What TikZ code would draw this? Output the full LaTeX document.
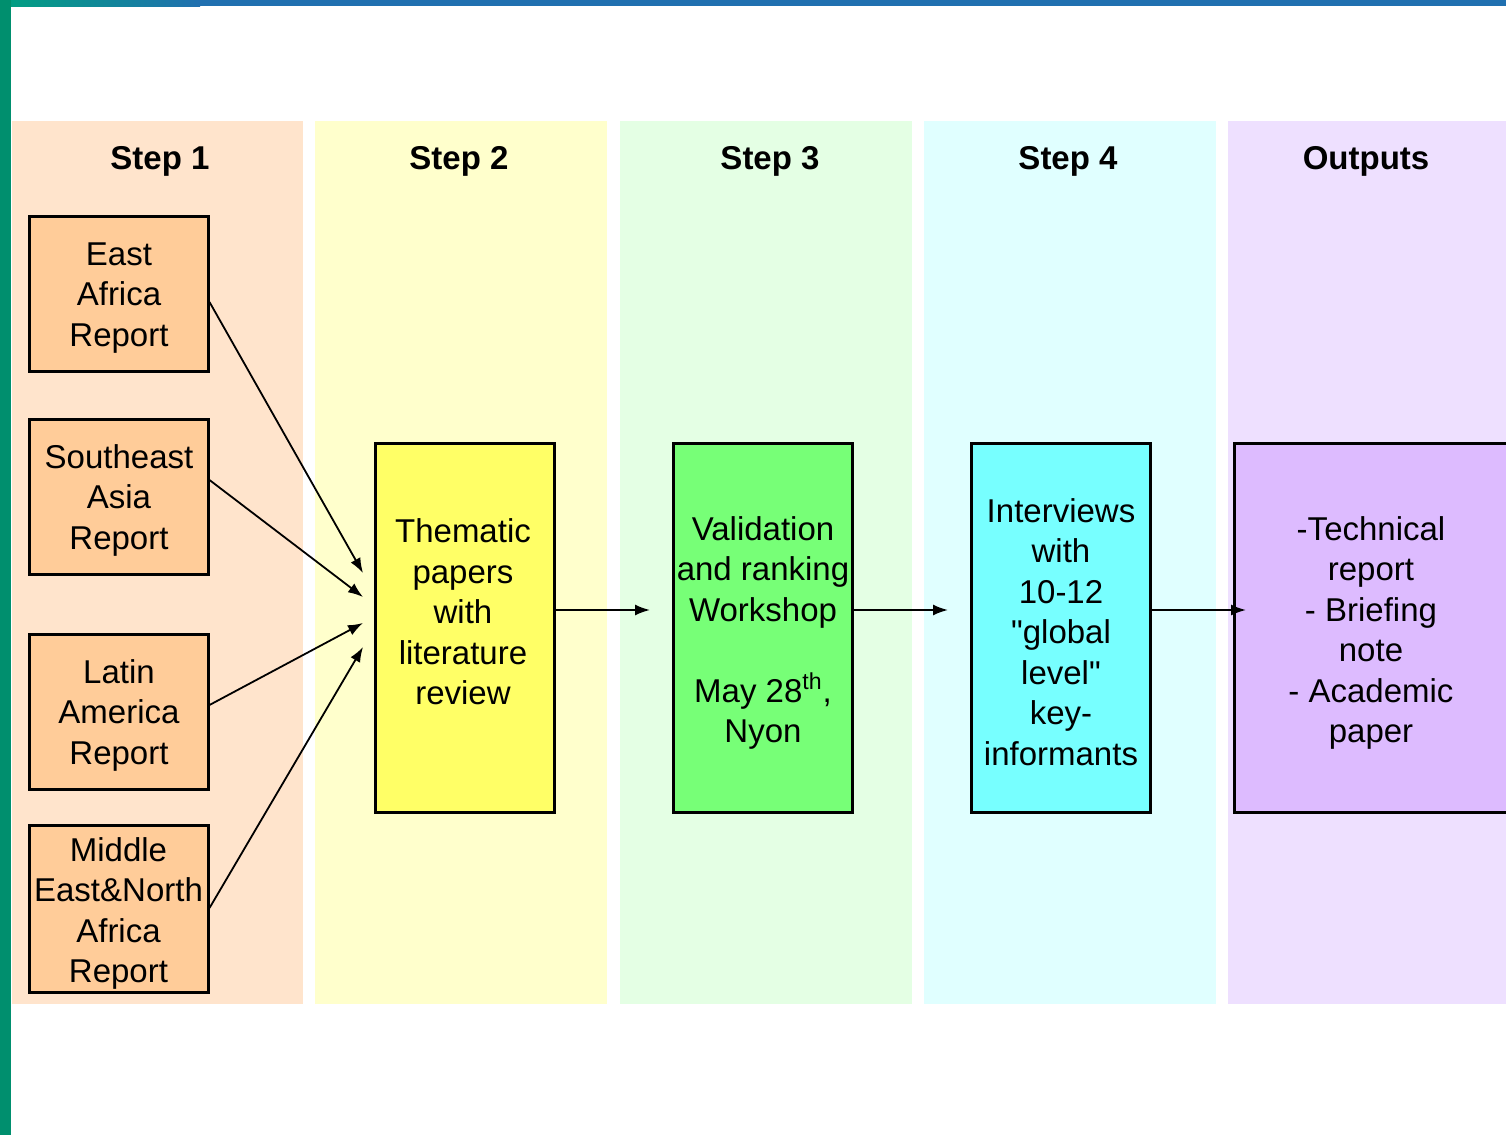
\documentclass[tikz,border=0pt]{standalone}
\usepackage{fontspec}
\setmainfont{Liberation Sans}[Ligatures=TeXOff]
\usetikzlibrary{arrows.meta}
\definecolor{colA}{HTML}{FFE4CC}
\definecolor{colB}{HTML}{FFFFCC}
\definecolor{colC}{HTML}{E4FFE4}
\definecolor{colD}{HTML}{E0FFFF}
\definecolor{colE}{HTML}{EEE0FF}
\definecolor{boxA}{HTML}{FFCC99}
\definecolor{boxB}{HTML}{FFFF66}
\definecolor{boxC}{HTML}{77FF77}
\definecolor{boxD}{HTML}{77FFFF}
\definecolor{boxE}{HTML}{DDBBFF}
\definecolor{bargreen}{HTML}{00A080}
\definecolor{barblue}{HTML}{2070B0}
\definecolor{sidegreen}{HTML}{008F6E}
\tikzset{
  column/.style={fill=#1, draw=none},
  header/.style={font=\fontsize{16.5}{20}\selectfont\bfseries, anchor=center},
  repbox/.style={draw=black, line width=1.5pt, fill=boxA, minimum width=89.5pt, inner sep=0pt},
  bigbox/.style={draw=black, line width=1.5pt, fill=#1, minimum width=89.5pt, minimum height=184.5pt, inner sep=0pt},
  txt/.style={align=center, font=\fontsize{16.5}{20.25}\selectfont, inner sep=0pt},
  conn/.style={line width=0.9pt, -{Latex[length=7.5pt,width=5.5pt]}}
}
\begin{document}
\begin{tikzpicture}[x=0.5pt,y=-0.5pt]
\useasboundingbox (0,0) rectangle (1506,1135);
\fill[white] (0,0) rectangle (1506,1135);
% frame
\shade[left color=bargreen, right color=barblue] (0,0) rectangle (200,6);
\fill[barblue] (199,0) rectangle (1506,6);
\fill[sidegreen] (0,0) rectangle (11,1135);
% columns
\fill[column=colA] (12,121) rectangle (303,1004);
\fill[column=colB] (315,121) rectangle (607,1004);
\fill[column=colC] (620,121) rectangle (912,1004);
\fill[column=colD] (924,121) rectangle (1216,1004);
\fill[column=colE] (1228,121) rectangle (1506,1004);
% headers
\node[header] (h1) at (160,161) {Step 1};
\node[header] (h2) at (459,161) {Step 2};
\node[header] (h3) at (770,161) {Step 3};
\node[header] (h4) at (1068,161) {Step 4};
\node[header] (h5) at (1366,161) {Outputs};
% step 1 boxes
\node[repbox, minimum height=77.5pt] (ea) at (118.5,293.5) {};
\node[txt] (eatxt) at (119,298) {East\\Africa\\Report};
\node[repbox, minimum height=77.5pt] (sa) at (118.5,496.5) {};
\node[txt] (satxt) at (119,500) {Southeast\\Asia\\Report};
\node[repbox, minimum height=77.5pt] (la) at (118.5,711.5) {};
\node[txt] (latxt) at (119,715) {Latin\\America\\Report};
\node[repbox, minimum height=83.5pt] (me) at (118.5,908.5) {};
\node[txt] (metxt) at (118.5,913.5) {Middle\\East\&North\\Africa\\Report};
% main boxes
\node[bigbox=boxB] (them) at (464.5,627.5) {};
\node[txt] (themtxt) at (463,612) {Thematic\\papers\\with\\literature\\review};
\node[bigbox=boxC] (val) at (762.5,627.5) {};
\node[txt] (valtxt) at (763,633) {Validation\\and ranking\\Workshop\\[20.25pt]May 28\textsuperscript{th},\\Nyon};
\node[bigbox=boxD] (int) at (1060.5,627.5) {};
\node[txt] (inttxt) at (1061,632) {Interviews\\with\\10-12\\"global\\level"\\key-\\informants};
\draw[line width=1.5pt, fill=boxE] (1520,443) -- (1234,443) -- (1234,812) -- (1520,812);
\coordinate (outl) at (1234,610);
\node[txt] (outtxt) at (1371,633) {-Technical\\report\\- Briefing\\note\\- Academic\\paper};
% connectors
\coordinate (t1) at (363,573);
\coordinate (t2) at (363,597);
\coordinate (t3) at (363,623);
\coordinate (t4) at (363,647);
\draw[conn] (ea.east |- 0,302) -- (t1);
\draw[conn] (sa.east |- 0,480) -- (t2);
\draw[conn] (la.east |- 0,705) -- (t3);
\draw[conn] (me.east |- 0,908) -- (t4);
\coordinate (a1) at (650,610);
\coordinate (a2) at (948,610);
\coordinate (a3) at (1246,610);
\draw[conn] (them.east |- 0,610) -- (a1);
\draw[conn] (val.east |- 0,610) -- (a2);
\draw[conn] (int.east |- 0,610) -- (a3);
\end{tikzpicture}
\end{document}
